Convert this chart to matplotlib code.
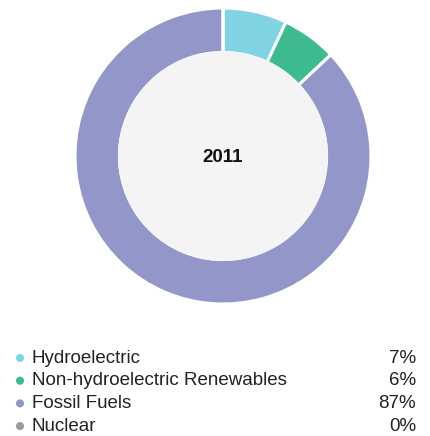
import matplotlib.pyplot as plt

plt.rcParams["font.family"] = ["Liberation Sans", "DejaVu Sans"]

# Datos del gráfico
labels = ["Hydroelectric", "Non-hydroelectric Renewables", "Fossil Fuels", "Nuclear"]
values = [7, 6, 87, 0]
colors = ["#7fd3e3", "#3dbb8f", "#9296c9", "#9a9a9c"]
year = "2011"

W, H = 431, 436
fig = plt.figure(figsize=(W / 100, H / 100), dpi=100)

# Anillo (donut)
cx, cy, r = 223, 156, 148
ax = fig.add_axes([(cx - r) / W, (H - cy - r) / H, 2 * r / W, 2 * r / H])
ax.pie(values, colors=colors, startangle=90, counterclock=False, radius=1,
       wedgeprops=dict(width=0.3, edgecolor="white", linewidth=2.2))
ax.add_patch(plt.Circle((0, 0), 0.704, color="#f4f4f4", zorder=5))
ax.text(0, -0.012, year, ha="center", va="center", fontsize=13.5, fontweight="bold",
        color="#111111", zorder=6)
ax.set_xlim(-1, 1)
ax.set_ylim(-1, 1)
ax.set_aspect("equal")
ax.axis("off")

# Leyenda con porcentajes
lg = fig.add_axes([0, 0, 1, 1])
lg.set_xlim(0, W)
lg.set_ylim(H, 0)
lg.axis("off")
y0, dy = 358, 22.7
for i, (lab, val, col) in enumerate(zip(labels, values, colors)):
    y = y0 + i * dy
    lg.scatter([20], [y], s=34, color=col, edgecolors="none")
    lg.text(32, y, lab, ha="left", va="center", fontsize=13.5, color="#222222")
    lg.text(416, y, f"{val}%", ha="right", va="center", fontsize=13.5, color="#222222")

fig.savefig("out.png", dpi=100)
